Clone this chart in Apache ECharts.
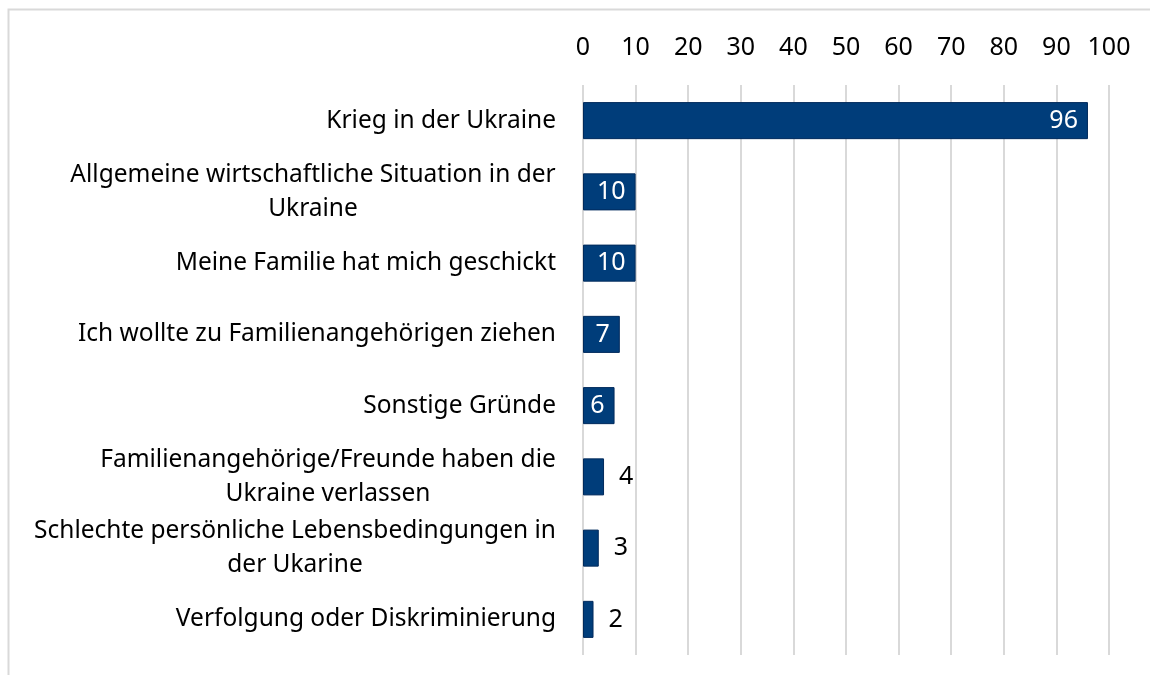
<!DOCTYPE html>
<html>
<head>
<meta charset="utf-8">
<script src="https://cdn.jsdelivr.net/npm/echarts@6/dist/echarts.min.js"></script>
<style>
  html, body { margin: 0; padding: 0; background: #fff; }
  #chart { width: 1150px; height: 675px; }
</style>
</head>
<body>
<div id="chart"></div>
<script>
const categories = [
  'Krieg in der Ukraine',
  'Allgemeine wirtschaftliche Situation in der\nUkraine',
  'Meine Familie hat mich geschickt',
  'Ich wollte zu Familienangehörigen ziehen',
  'Sonstige Gründe',
  'Familienangehörige/Freunde haben die\nUkraine verlassen',
  'Schlechte persönliche Lebensbedingungen in\nder Ukarine',
  'Verfolgung oder Diskriminierung'
]
const values = [96, 10, 10, 7, 6, 4, 3, 2]
const insideLabel = [true, true, true, true, true, false, false, false]

const chart = echarts.init(document.getElementById('chart'), null, { renderer: 'canvas' })
const font = '"Noto Sans", sans-serif'
const labelSize = 24.5

// wrapped labels: lines centred on each other, block right-aligned (like Excel)
const ctx = document.createElement('canvas').getContext('2d')
ctx.font = labelSize + 'px ' + font
const rich = {}
categories.forEach((c, i) => {
  const w = Math.max(...c.split('\n').map(l => ctx.measureText(l).width))
  rich['w' + i] = { width: Math.ceil(w), align: 'center', fontSize: labelSize, fontFamily: font, color: '#000', lineHeight: 34 }
})

chart.setOption({
  animation: false,
  textStyle: { fontFamily: font },
  graphic: [{
    type: 'rect',
    shape: { x: 8.5, y: 9.5, width: 1160, height: 700 },
    style: { fill: 'none', stroke: '#d9d9d9', lineWidth: 2 },
    silent: true
  }],
  grid: { left: 583, right: 41, top: 85, bottom: 20, containLabel: false },
  xAxis: {
    type: 'value',
    position: 'top',
    min: 0,
    max: 100,
    interval: 10,
    axisLine: { show: false },
    axisTick: { show: false },
    axisLabel: { color: '#000', fontSize: 25, fontFamily: font, margin: 25 },
    splitLine: { lineStyle: { color: '#d9d9d9', width: 2 } }
  },
  yAxis: {
    type: 'category',
    inverse: true,
    data: categories,
    axisLine: { show: false },
    axisTick: { show: false },
    axisLabel: {
      color: '#000', fontSize: labelSize, fontFamily: font, margin: 27, lineHeight: 34, align: 'right',
      formatter: (v, i) => {
        const lines = v.split('\n')
        if (lines.length === 1) return v
        return lines.map(l => '{w' + i + '|' + l + '}').join('\n')
      },
      rich
    }
  },
  series: [{
    type: 'bar',
    barWidth: '52%',
    data: values.map((v, i) => ({
      value: v,
      label: insideLabel[i]
        ? { position: 'insideRight', color: '#fff', distance: 10 }
        : { position: 'right', color: '#000', distance: 15 }
    })),
    itemStyle: { color: '#003d7a', borderColor: '#002a5c', borderWidth: 1 },
    label: { show: true, fontSize: 25, fontFamily: font }
  }]
})
</script>
</body>
</html>
